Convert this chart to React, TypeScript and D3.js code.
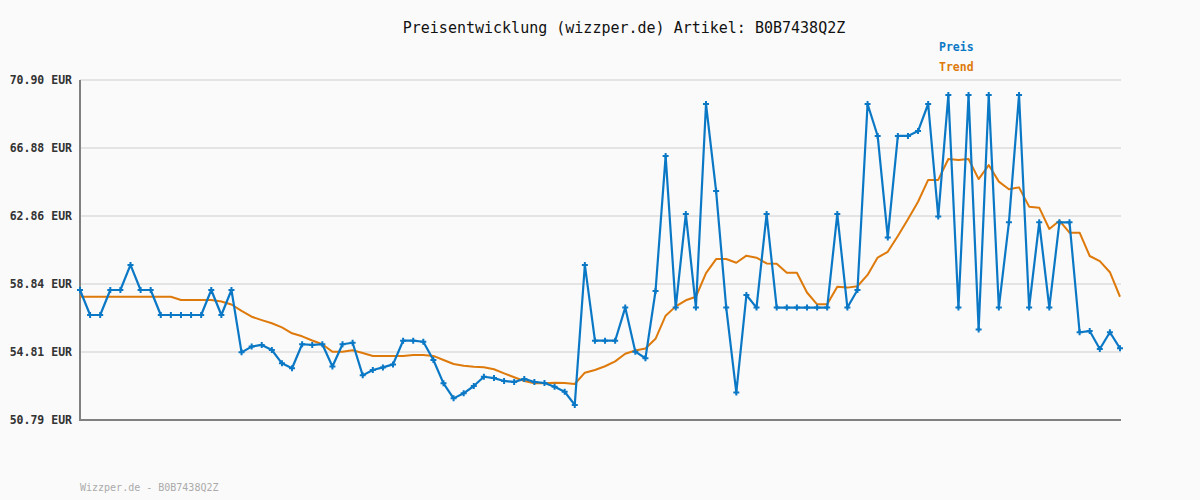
import React from "react";
import * as d3 from "d3";

const title = "Preisentwicklung (wizzper.de) Artikel: B0B7438Q2Z";
const footer = "Wizzper.de - B0B7438Q2Z";
const seriesNames = ["Preis", "Trend"];
const yTicks = [50.79, 54.81, 58.84, 62.86, 66.88, 70.9];

const preis = [
  58.48, 57.0, 57.0, 58.48, 58.48, 59.96, 58.48, 58.48, 57.0, 57.0,
  57.0, 57.0, 57.0, 58.48, 57.0, 58.48, 54.79, 55.13, 55.23, 54.93,
  54.14, 53.85, 55.27, 55.23, 55.27, 53.95, 55.27, 55.36, 53.43, 53.75,
  53.9, 54.08, 55.48, 55.48, 55.42, 54.34, 52.96, 52.07, 52.37, 52.8,
  53.35, 53.27, 53.1, 53.04, 53.22, 53.04, 52.98, 52.76, 52.46, 51.68,
  59.96, 55.48, 55.48, 55.48, 57.44, 54.83, 54.44, 58.42, 66.4, 57.44,
  62.97, 57.44, 69.48, 64.33, 57.44, 52.41, 58.18, 57.44, 62.97, 57.44,
  57.44, 57.44, 57.44, 57.44, 57.44, 62.97, 57.44, 58.48, 69.48, 67.59,
  61.59, 67.59, 67.59, 67.88, 69.48, 62.82, 70.01, 57.44, 70.01, 56.15,
  70.01, 57.44, 62.48, 70.01, 57.44, 62.48, 57.44, 62.48, 62.48, 55.98,
  56.05, 54.99, 55.98, 55.03,
];

const trend = [
  58.08, 58.08, 58.08, 58.08, 58.08, 58.08, 58.08, 58.08, 58.08, 58.08,
  57.89, 57.89, 57.89, 57.89, 57.8, 57.62, 57.24, 56.9, 56.7, 56.51,
  56.27, 55.92, 55.74, 55.49, 55.27, 54.83, 54.83, 54.92, 54.75, 54.58,
  54.58, 54.58, 54.58, 54.63, 54.63, 54.58, 54.34, 54.1, 54.0, 53.94,
  53.91, 53.79, 53.55, 53.32, 53.1, 52.96, 52.96, 53.0, 52.98, 52.92,
  53.59, 53.75, 53.97, 54.26, 54.71, 54.9, 55.02, 55.59, 56.96, 57.51,
  57.87, 58.08, 59.48, 60.31, 60.31, 60.09, 60.51, 60.39, 60.05, 60.03,
  59.5, 59.5, 58.33, 57.63, 57.63, 58.67, 58.62, 58.7, 59.37, 60.4,
  60.74, 61.67, 62.66, 63.7, 64.99, 64.99, 66.23, 66.17, 66.23, 65.04,
  65.87, 64.89, 64.44, 64.55, 63.41, 63.35, 62.09, 62.58, 61.87, 61.87,
  60.49, 60.19, 59.53, 58.08,
];

const W = 1200;
const H = 500;
const left = 80;
const right = 1121;
const top = 80;
const bottom = 420;

const BLUE = "#0b78c6";
const ORANGE = "#de7a0b";

export default function App() {
  const x = d3.scaleLinear().domain([0, preis.length - 1]).range([left, 1120]);
  const y = d3.scaleLinear().domain([50.79, 70.9]).range([bottom, top]);
  const line = d3
    .line<number>()
    .x((_, i) => x(i))
    .y((d) => y(d));

  const mono = "'DejaVu Sans Mono', monospace";

  return (
    <svg
      width={W}
      height={H}
      style={{ position: "absolute", left: 0, top: 0, display: "block" }}
    >
      <rect x={0} y={0} width={W} height={H} fill="#fafafa" />
      <text
        x={624}
        y={33}
        textAnchor="middle"
        fontFamily={mono}
        fontSize={15}
        fill="#111"
      >
        {title}
      </text>
      <text x={939} y={51} fontFamily={mono} fontSize={11.5} fontWeight="bold" fill={BLUE}>
        {seriesNames[0]}
      </text>
      <text x={939} y={71} fontFamily={mono} fontSize={11.5} fontWeight="bold" fill={ORANGE}>
        {seriesNames[1]}
      </text>
      {yTicks.map((t) => (
        <g key={t}>
          {t !== 50.79 && (
            <line x1={left} x2={right} y1={y(t)} y2={y(t)} stroke="#e4e4e4" strokeWidth={2} />
          )}
          <text
            x={72}
            y={y(t) + 4}
            textAnchor="end"
            fontFamily={mono}
            fontSize={11.5}
            fontWeight="bold"
            fill="#333"
          >
            {t.toFixed(2)} EUR
          </text>
        </g>
      ))}
      <line x1={left} x2={left} y1={top} y2={bottom + 1} stroke="#808080" strokeWidth={2} />
      <line x1={left - 1} x2={right} y1={bottom} y2={bottom} stroke="#808080" strokeWidth={2} />
      <path d={line(trend) || ""} fill="none" stroke={ORANGE} strokeWidth={2} strokeLinejoin="round" />
      <path d={line(preis) || ""} fill="none" stroke={BLUE} strokeWidth={2.2} strokeLinejoin="round" />
      {preis.map((d, i) => (
        <path
          key={i}
          d={`M${x(i) - 3},${y(d)}H${x(i) + 3}M${x(i)},${y(d) - 3}V${y(d) + 3}`}
          stroke={BLUE}
          strokeWidth={2}
        />
      ))}
      <text x={80} y={491} fontFamily={mono} fontSize={10} fill="#aaa">
        {footer}
      </text>
    </svg>
  );
}
